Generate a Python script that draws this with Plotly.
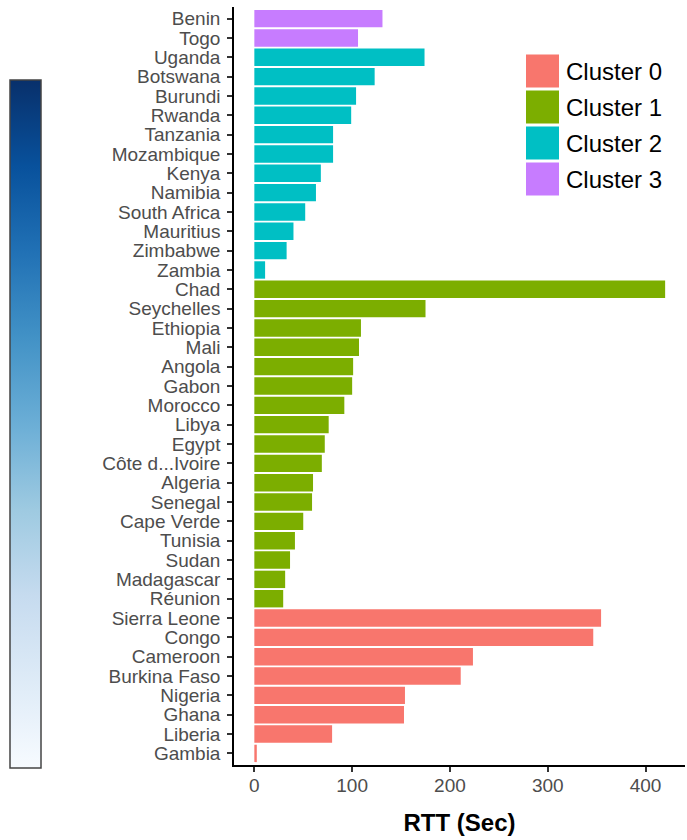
import plotly.graph_objects as go

countries = ["Benin", "Togo", "Uganda", "Botswana", "Burundi", "Rwanda", "Tanzania",
             "Mozambique", "Kenya", "Namibia", "South Africa", "Mauritius", "Zimbabwe",
             "Zambia", "Chad", "Seychelles", "Ethiopia", "Mali", "Angola", "Gabon",
             "Morocco", "Libya", "Egypt", "Côte d...Ivoire", "Algeria", "Senegal",
             "Cape Verde", "Tunisia", "Sudan", "Madagascar", "Réunion", "Sierra Leone",
             "Congo", "Cameroon", "Burkina Faso", "Nigeria", "Ghana", "Liberia", "Gambia"]
rtt = [131, 106, 174, 123, 104, 99, 80.5,
       80.5, 68, 63, 52, 40, 33,
       11, 420, 175, 109, 107, 101, 100,
       92, 76, 72, 69, 60, 59,
       50, 41.5, 36.5, 31.5, 29.5, 354.5,
       346.5, 223.5, 211, 154, 153, 79.5, 2.5]
cluster = [3, 3, 2, 2, 2, 2, 2,
           2, 2, 2, 2, 2, 2,
           2, 1, 1, 1, 1, 1, 1,
           1, 1, 1, 1, 1, 1,
           1, 1, 1, 1, 1, 0,
           0, 0, 0, 0, 0, 0, 0]
cluster_names = ["Cluster 0", "Cluster 1", "Cluster 2", "Cluster 3"]
cluster_colors = ["#F8766D", "#7CAE00", "#00BFC4", "#C77CFF"]
blues = ["#f7fbff", "#deebf7", "#c6dbef", "#9ecae1", "#6baed6",
         "#4292c6", "#2171b5", "#08519c", "#08306b"]

W, H = 687, 840
FONT = "Liberation Sans, Arial, Helvetica, sans-serif"

fig = go.Figure()
for k, name in enumerate(cluster_names):
    xs = [v for v, c in zip(rtt, cluster) if c == k]
    ys = [n for n, c in zip(countries, cluster) if c == k]
    fig.add_trace(go.Bar(x=xs, y=ys, orientation="h", name=name,
                         marker=dict(color=cluster_colors[k], line=dict(width=0)),
                         showlegend=False))

# colour bar (dummy invisible trace)
fig.add_trace(go.Scatter(
    x=[0], y=[countries[0]], mode="markers", showlegend=False, hoverinfo="skip",
    marker=dict(size=0.1, opacity=0, color=[0], cmin=0, cmax=1,
                colorscale=[[i / (len(blues) - 1), c] for i, c in enumerate(blues)],
                showscale=True,
                colorbar=dict(x=10 / W, xanchor="left", y=1 - 80 / H, yanchor="top",
                              lenmode="pixels", len=688, thickness=31,
                              thicknessmode="pixels", xpad=0, ypad=0,
                              outlinewidth=1.5, outlinecolor="#444444",
                              showticklabels=False, ticks=""))))

# manual legend with large keys
for k, name in enumerate(cluster_names):
    cy = 71 + 36 * k
    fig.add_shape(type="rect", xref="paper", yref="paper",
                  x0=526 / W, x1=559 / W, y0=1 - (cy + 16.5) / H, y1=1 - (cy - 16.5) / H,
                  fillcolor=cluster_colors[k], line=dict(width=0))
    fig.add_annotation(xref="paper", yref="paper", x=564 / W, y=1 - cy / H,
                       xanchor="left", yanchor="middle", text=name, showarrow=False,
                       font=dict(family=FONT, size=24, color="#000000"))

fig.update_layout(
    width=W, height=H,
    margin=dict(l=0, r=0, t=0, b=0),
    plot_bgcolor="white", paper_bgcolor="white",
    barmode="overlay", bargap=0.1,
    font=dict(family=FONT),
    xaxis=dict(domain=[234 / W, 685 / W], range=[-20.8, 440.3],
               tickvals=[0, 100, 200, 300, 400], showgrid=False, zeroline=False,
               showline=True, linecolor="black", linewidth=1.5,
               ticks="outside", ticklen=5, tickwidth=1.5, tickcolor="#333333",
               ticklabelstandoff=-3,
               tickfont=dict(size=19, color="#4d4d4d"),
               title=dict(text="<b>RTT (Sec)</b>", font=dict(size=24, color="black"),
                          standoff=20)),
    yaxis=dict(domain=[1 - 765 / H, 1 - 7 / H], type="category",
               categoryorder="array", categoryarray=countries,
               tickmode="array", tickvals=countries, ticktext=countries,
               range=[38.6, -0.6], showgrid=False, zeroline=False,
               showline=True, linecolor="black", linewidth=1.5,
               ticks="outside", ticklen=5, tickwidth=1.5, tickcolor="#333333",
               ticklabelstandoff=3,
               tickfont=dict(size=19, color="#4d4d4d")),
)

fig.write_html("out.html", config={"displayModeBar": False},
               post_script="document.body.style.margin='0';")
